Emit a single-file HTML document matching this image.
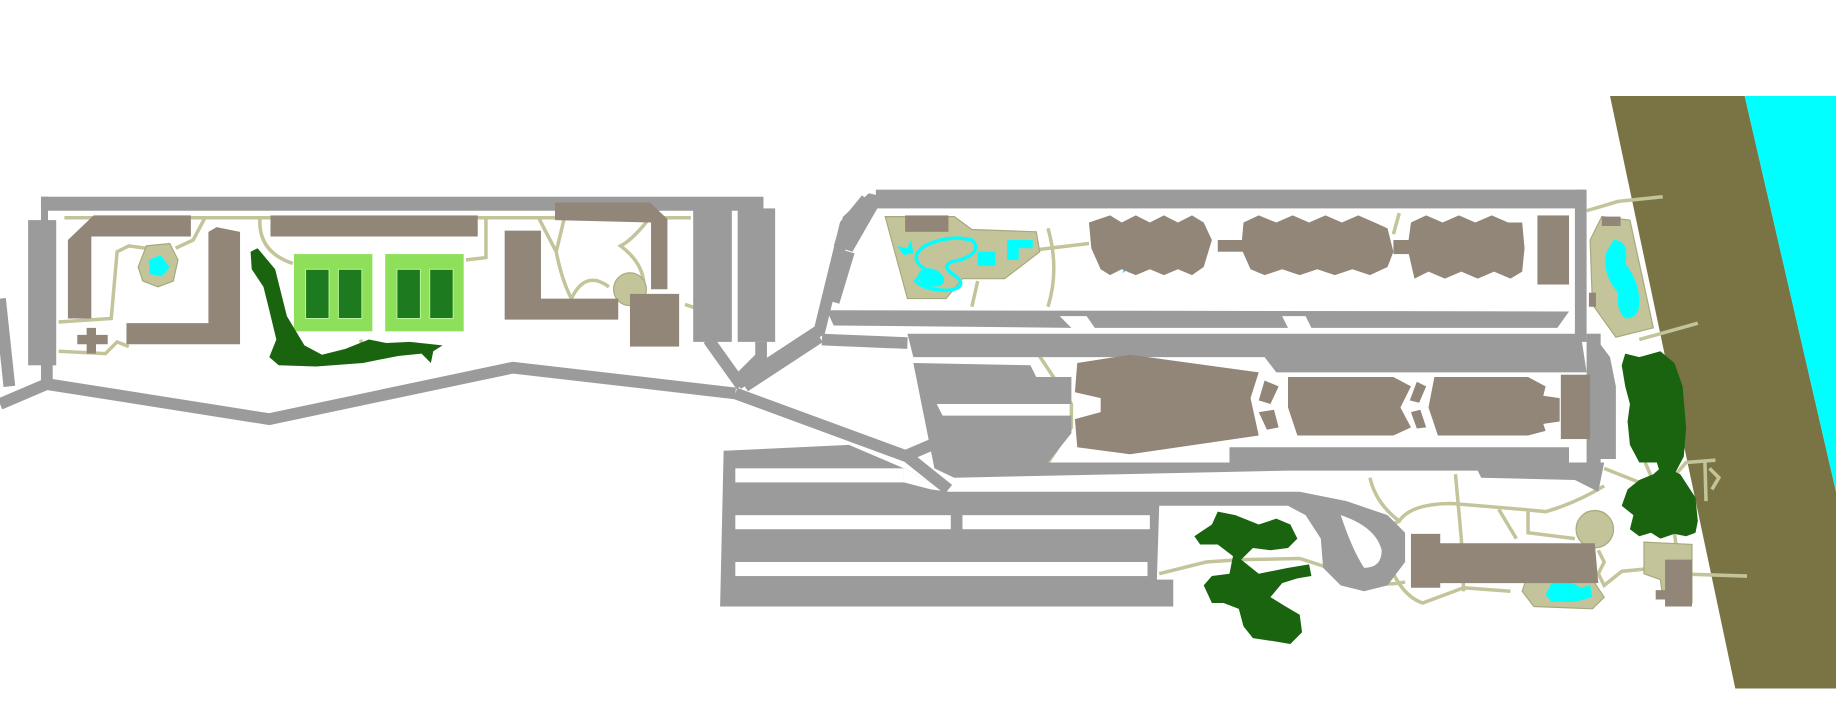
<!DOCTYPE html>
<html><head><style>html,body{margin:0;padding:0;background:#fff;}svg{display:block}</style></head>
<body>
<svg width="1836" height="723" viewBox="0 0 1568 617.5" preserveAspectRatio="none" xmlns="http://www.w3.org/2000/svg">
<rect width="1568" height="618" fill="#fff"/>
<!-- beach & water -->
<polygon points="1375,82 1490,82 1568,420 1568,588 1482,588" fill="#7a7444"/>
<polygon points="1490,82 1568,82 1568,420" fill="#00ffff"/>

<g fill="none" stroke="#c4c49a" stroke-width="3">
<!-- left paths -->
<path d="M55,186 L590,186"/>
<path d="M50,275 L95,272 L100,215 L110,210 L125,212"/>
<path d="M50,300 L90,302 L100,292 L110,296"/>
<path d="M150,212 L165,205 L175,186"/>
<path d="M222,186 Q220,215 250,225"/>
<path d="M398,222 L415,220 L415,186"/>
<path d="M460,186 L475,215 L482,186 M475,215 Q480,240 488,255 Q500,230 520,245"/>
<path d="M555,186 Q540,205 530,210 Q550,225 550,245"/>
<path d="M585,260 L600,265 L595,280"/>
<path d="M308,290 L312,305"/>
<!-- middle -->
<path d="M888,213 L930,208"/>
<path d="M895,195 Q905,230 895,262"/>
<path d="M885,300 Q905,330 915,345 L915,365 L895,395"/>
<path d="M835,240 L830,262"/>
<path d="M1190,200 L1195,182"/>
<!-- right -->
<path d="M1355,180 L1382,172 L1420,168"/>
<path d="M1400,290 L1450,276"/>
<path d="M1170,408 Q1175,430 1195,445 Q1205,430 1240,430 L1300,435 L1320,437 Q1345,430 1370,415"/>
<path d="M1243,405 L1248,460 L1250,505"/>
<path d="M1280,435 L1295,460"/>
<path d="M1305,437 L1305,455 L1345,460"/>
<path d="M1195,445 L1185,450"/>
<path d="M1190,490 Q1200,510 1215,515 L1250,502 L1290,505"/>
<path d="M1365,470 L1370,480 L1365,490 L1370,500 L1385,488 L1405,486"/>
<path d="M1430,490 L1492,492"/>
<path d="M1370,400 L1400,412 L1420,418 L1440,395 L1465,393"/>
<path d="M1405,395 L1420,430 L1430,455 L1432,470"/>
<path d="M1456,393 L1457,428 M1460,400 L1468,408 L1462,418"/>
<path d="M990,490 L1030,480 L1060,478 L1110,477 L1135,485"/>
<path d="M1140,475 Q1165,505 1200,497"/>
</g>

<!-- roads -->
<g fill="#9b9b9b">
<rect x="35" y="168" width="617" height="12"/>
<rect x="35" y="168" width="6" height="22"/>
<rect x="24" y="188" width="24" height="124"/>
<rect x="592" y="178" width="33" height="114"/>
<rect x="630" y="178" width="32" height="114"/>
<rect x="748" y="162" width="606" height="16"/>
<rect x="1345" y="162" width="10" height="130"/>
<polygon points="706,265 1340,266 1330,280 1120,280 1115,270 1095,270 1100,280 935,280 928,270 905,270 915,280 712,278"/>
<polygon points="775,285 1350,285 1355,318 1090,318 1080,305 780,305"/>
<polygon points="780,310 880,312 885,322 915,322 915,345 800,345 805,355 915,355 915,370 895,395 1050,395 1050,382 1340,382 1340,395 1370,395 1365,420 1345,410 1265,408 1262,402 1100,402 815,408 798,400 790,360"/>
<rect x="1355" y="285" width="12" height="110"/>
<polygon points="1360,285 1375,305 1380,330 1380,392 1362,392 1365,330 1355,300"/>
<!-- parking -->
<polygon points="618,385 725,380 772,400 810,420 1110,420 1150,428 1185,440 1200,455 1200,480 1185,500 1165,505 1145,500 1130,485 1128,460 1115,440 1100,432 990,432 988,495 1002,495 1002,518 615,518"/>
</g>
<g fill="#fff">
<rect x="628" y="400" width="144" height="12"/>
<polygon points="772,400 810,420 795,418 772,412"/>
<rect x="628" y="440" width="184" height="12"/>
<rect x="822" y="440" width="160" height="12"/>
<rect x="628" y="480" width="352" height="12"/>
<path d="M1145,440 Q1175,450 1180,470 Q1180,485 1165,485 Q1155,470 1145,440Z"/>
</g>
<g fill="none" stroke="#9b9b9b" stroke-width="10">
<polyline points="0,345 40,328 230,358 438,314 628,336"/>
<polyline points="40,310 40,330"/>
<polyline points="605,290 630,325 650,305 650,292"/>
<polyline points="630,328 700,282 722,192 740,170"/>
<polyline points="628,336 775,390 810,418"/>
<polyline points="725,215 712,258"/>
<polyline points="702,290 775,293"/>
<polyline points="700,288 636,330"/>
<polyline points="0,255 8,330"/>
<polyline points="772,390 800,378"/>
</g>
<polygon points="720,185 742,165 755,168 728,215 712,210" fill="#9b9b9b"/>

<!-- beige areas -->
<g fill="#c4c49a" stroke="#a8a87e" stroke-width="1">
<polygon points="756,185 815,185 830,196 885,198 888,215 858,238 822,238 808,255 775,255"/>
<path d="M125,210 L145,208 L152,222 L148,240 L135,245 L122,240 L118,228Z"/>
<circle cx="538" cy="247" r="14"/>
<polygon points="1368,185 1392,188 1412,280 1380,288 1360,260 1358,205"/>
<circle cx="1362" cy="452" r="16"/>
<path d="M1305,490 L1360,495 L1370,510 L1360,520 L1310,518 L1300,505Z"/>
<polygon points="1404,463 1445,465 1445,515 1420,510 1418,495 1404,490"/>
</g>
<!-- pools -->
<g fill="#00ffff">
<path d="M127,222 L137,218 L145,228 L138,236 L128,234Z"/>
<path d="M1378,205 Q1392,205 1388,225 Q1400,240 1400,258 Q1400,272 1388,272 Q1380,265 1382,250 Q1368,235 1372,215Z"/>
<path d="M1325,498 L1340,496 L1350,502 L1358,500 L1360,510 L1345,514 L1325,514 L1320,508Z"/>
<path d="M790,230 Q775,220 790,210 Q810,200 830,205 Q840,215 820,222 Q800,225 815,235 Q828,245 810,248 Q790,248 782,240 Z" fill="none" stroke="#00ffff" stroke-width="3"/>
<path d="M785,232 Q795,225 805,235 Q810,245 795,245 Q782,243 785,232Z"/>
<rect x="835" y="215" width="15" height="12"/>
<polygon points="860,205 882,205 882,212 870,212 870,222 860,222"/>
<path d="M766,210 L775,212 L778,205 L780,216 L772,218Z"/>
</g>
<text x="955" y="215" font-family="Liberation Sans, sans-serif" font-size="6" fill="#222">148A</text>
<text x="956" y="233" font-size="13" fill="#00e5e5" font-family="DejaVu Sans, sans-serif">★</text>

<!-- buildings -->
<g fill="#928678">
<polygon points="58,205 80,184 163,184 163,202 78,202 78,272 58,272"/>
<polygon points="178,198 185,194 205,198 205,294 108,294 108,276 178,276"/>
<rect x="231" y="184" width="177" height="18"/>
<polygon points="474,173 555,173 570,187 570,247 556,247 556,190 474,188"/>
<polygon points="431,197 462,197 462,255 528,255 528,273 431,273"/>
<rect x="538" y="251" width="42" height="45"/>
<path d="M74,280 h8 v6 h10 v8 h-10 v8 h-8 v-8 h-8 v-8 h8z"/>
<rect x="773" y="184" width="37" height="14"/>
<polygon points="930,190 948,184 958,190 970,184 982,190 994,184 1006,190 1018,184 1028,190 1035,205 1028,228 1018,235 1006,230 994,235 982,230 970,235 958,230 948,235 940,230 932,212"/>
<polygon points="1062,190 1075,184 1090,190 1104,184 1118,190 1132,184 1146,190 1160,184 1174,190 1185,195 1190,215 1185,228 1170,235 1155,230 1140,235 1125,230 1110,235 1095,230 1080,235 1068,230 1060,212"/>
<rect x="1040" y="205" width="25" height="10"/>
<polygon points="1205,190 1218,184 1232,190 1246,184 1260,190 1274,184 1288,190 1300,190 1302,212 1300,232 1290,238 1276,232 1262,238 1248,232 1234,238 1220,232 1208,238 1202,212"/>
<rect x="1190" y="205" width="20" height="12"/>
<rect x="1313" y="184" width="27" height="59"/>
<polygon points="920,310 965,303 1075,318 1068,340 1075,372 965,388 920,382 918,358 940,352 940,340 918,335"/>
<polygon points="1080,325 1092,330 1085,345 1075,342"/>
<polygon points="1075,352 1088,350 1092,365 1082,367"/>
<polygon points="1100,322 1190,322 1205,330 1196,348 1205,365 1190,372 1108,372 1100,348"/>
<polygon points="1210,326 1218,330 1212,344 1204,342"/>
<polygon points="1205,352 1213,350 1218,365 1210,366"/>
<polygon points="1225,322 1305,322 1320,330 1318,338 1332,340 1332,360 1318,362 1320,368 1305,372 1228,372 1220,348"/>
<rect x="1333" y="320" width="25" height="55"/>
<polygon points="1205,456 1230,456 1230,464 1362,464 1365,498 1230,498 1230,502 1205,502"/>
<polygon points="1422,478 1445,478 1445,518 1422,518 1422,512 1414,512 1414,504 1422,504"/>
<rect x="1368" y="185" width="16" height="8"/>
<rect x="1357" y="250" width="6" height="12"/>
</g>

<!-- tennis courts -->
<rect x="251" y="217" width="67" height="66" fill="#8ee05a"/>
<rect x="329" y="217" width="67" height="66" fill="#8ee05a"/>
<g fill="#1e7a1e" stroke="#b9f5a0" stroke-width="0.8">
<rect x="261" y="230" width="20" height="42"/><rect x="289" y="230" width="20" height="42"/>
<rect x="339" y="230" width="20" height="42"/><rect x="367" y="230" width="20" height="42"/>
</g>

<!-- trees -->
<g fill="#1a6410">
<path d="M214,215 L220,212 L235,230 L240,250 L245,270 L260,295 L275,303 L295,298 L315,290 L330,293 L350,292 L378,295 L370,300 L368,310 L360,302 L340,304 L310,310 L270,313 L238,312 L230,305 L236,290 L230,265 L225,245 L215,230Z"/>
<path d="M1040,437 L1055,440 L1075,448 L1090,443 L1102,448 L1108,460 L1100,468 L1085,470 L1070,468 L1060,478 L1075,490 L1100,485 L1118,482 L1120,492 L1108,494 L1095,498 L1085,510 L1098,518 L1110,525 L1112,540 L1102,550 L1090,548 L1070,545 L1062,535 L1058,520 L1045,515 L1035,515 L1028,500 L1035,492 L1050,490 L1053,475 L1040,465 L1025,465 L1020,458 L1035,448Z"/>
<path d="M1388,302 L1400,305 L1418,300 L1430,310 L1437,330 L1440,365 L1438,390 L1430,405 L1418,405 L1415,395 L1400,395 L1392,380 L1390,360 L1392,345 L1388,330 L1385,312Z"/>
<path d="M1390,418 L1400,410 L1412,405 L1420,398 L1435,405 L1448,425 L1450,445 L1448,455 L1440,458 L1430,456 L1418,460 L1410,455 L1400,458 L1392,452 L1395,440 L1385,432 Z"/>
</g>
</svg>
</body></html>
